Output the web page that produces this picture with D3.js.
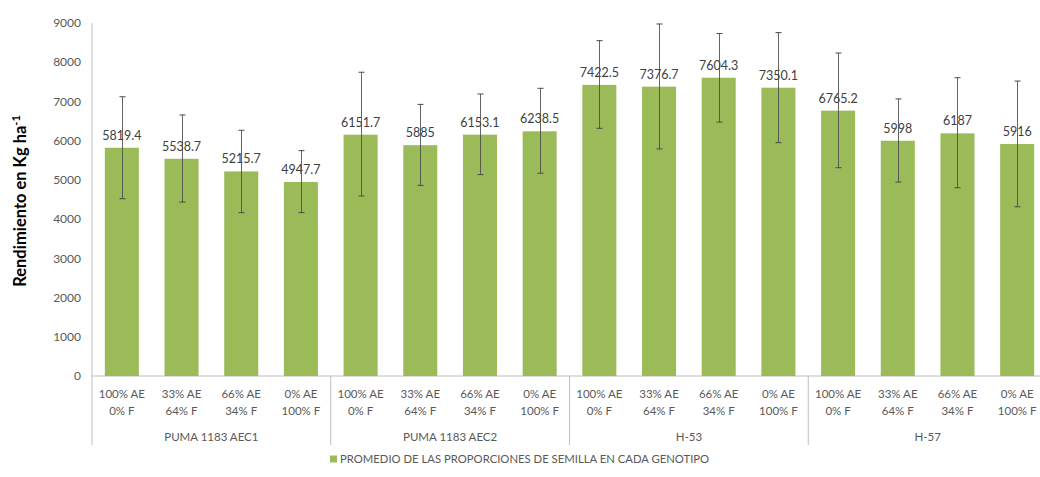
<!DOCTYPE html>
<html>
<head>
<meta charset="utf-8">
<script src="https://cdn.jsdelivr.net/npm/d3@7.9.0/dist/d3.min.js"></script>
<style>
  body { margin: 0; background: #fff; }
  svg text { font-family: Lato, "Noto Sans", sans-serif; }
</style>
</head>
<body>
<svg id="chart" width="1040" height="477"></svg>
<script>
// Data
const groups = ['PUMA 1183 AEC1', 'PUMA 1183 AEC2', 'H-53', 'H-57'];
const treatments = [['100% AE', '0% F'], ['33% AE', '64% F'], ['66% AE', '34% F'], ['0% AE', '100% F']];
const means = [5819.4, 5538.7, 5215.7, 4947.7, 6151.7, 5885, 6153.1, 6238.5,
               7422.5, 7376.7, 7604.3, 7350.1, 6765.2, 5998, 6187, 5916];
const errUpper = [7120, 6655, 6265, 5745, 7745, 6925, 7190, 7335,
                  8550, 8975, 8730, 8755, 8235, 7065, 7605, 7520];
const errLower = [4520, 4435, 4165, 4165, 4590, 4860, 5135, 5170,
                  6315, 5790, 6475, 5950, 5310, 4945, 4800, 4315];
const yTicks = [0, 1000, 2000, 3000, 4000, 5000, 6000, 7000, 8000, 9000];
const legendLabel = 'PROMEDIO DE LAS PROPORCIONES DE SEMILLA EN CADA GENOTIPO';

const svg = d3.select('#chart');
const plotLeft = 92, plotRight = 1047, plotTop = 23, plotBottom = 376;

const bars = means.map((v, i) => ({
  i, value: v, hi: errUpper[i], lo: errLower[i],
  group: groups[Math.floor(i / 4)], lines: treatments[i % 4]
}));

const x = d3.scaleBand().domain(d3.range(means.length)).range([plotLeft, plotRight]).paddingInner(0.43).paddingOuter(0.215);
const xGroup = d3.scaleBand().domain(groups).range([plotLeft, plotRight]);
const y = d3.scaleLinear().domain([0, 9000]).range([plotBottom, plotTop]);

// y axis labels
svg.append('g').selectAll('text').data(yTicks).join('text')
  .attr('x', 81).attr('y', d => y(d)).attr('dy', '0.35em')
  .attr('text-anchor', 'end').attr('font-size', 12).attr('fill', '#595959')
  .text(d => d);

// axis lines
svg.append('line').attr('x1', plotLeft).attr('x2', plotLeft).attr('y1', plotTop).attr('y2', 445)
  .attr('stroke', '#bfbfbf');
svg.append('line').attr('x1', plotLeft).attr('x2', 1040).attr('y1', plotBottom).attr('y2', plotBottom)
  .attr('stroke', '#bfbfbf');
svg.append('g').selectAll('line').data(groups.slice(1)).join('line')
  .attr('x1', d => xGroup(d)).attr('x2', d => xGroup(d))
  .attr('y1', plotBottom).attr('y2', 445).attr('stroke', '#bfbfbf');

// bars
svg.append('g').selectAll('rect').data(bars).join('rect')
  .attr('x', d => x(d.i)).attr('width', x.bandwidth())
  .attr('y', d => y(d.value)).attr('height', d => y(0) - y(d.value))
  .attr('fill', '#9bbb59');

// data labels
svg.append('g').selectAll('text').data(bars).join('text')
  .attr('x', d => x(d.i) + x.bandwidth() / 2).attr('y', d => y(d.value) - 8)
  .attr('text-anchor', 'middle').attr('font-size', 12.5).attr('fill', '#404040')
  .text(d => d.value);

// error bars
const eb = svg.append('g').attr('stroke', '#4a4a4a').attr('stroke-width', 1);
bars.forEach(d => {
  const cx = Math.round(x(d.i) + x.bandwidth() / 2) + 0.5;
  eb.append('line').attr('x1', cx).attr('x2', cx).attr('y1', y(d.hi)).attr('y2', y(d.lo)).attr('stroke-opacity', 0.85);
  [d.hi, d.lo].forEach(v => {
    eb.append('line').attr('x1', cx - 3).attr('x2', cx + 3).attr('y1', y(v)).attr('y2', y(v));
  });
});

// category labels
const cat = svg.append('g').selectAll('text').data(bars).join('text')
  .attr('text-anchor', 'middle').attr('font-size', 11.5).attr('fill', '#595959');
cat.each(function (d) {
  const t = d3.select(this);
  d.lines.forEach((ln, k) => {
    t.append('tspan').attr('x', x(d.i) + x.bandwidth() / 2).attr('y', 398 + k * 17).text(ln);
  });
});

// group labels
svg.append('g').selectAll('text').data(groups).join('text')
  .attr('x', d => xGroup(d) + xGroup.bandwidth() / 2).attr('y', 441)
  .attr('text-anchor', 'middle').attr('font-size', 11.5).attr('fill', '#595959')
  .text(d => d);

// y axis title
svg.append('text')
  .attr('transform', 'translate(26,201) rotate(-90)')
  .attr('text-anchor', 'middle').attr('font-size', 16.5).attr('font-weight', 'bold').attr('fill', '#000')
  .html('Rendimiento en Kg ha<tspan dy="-6" font-size="11">-1</tspan>');

// legend
const lg = svg.append('g').attr('transform', 'translate(330,459)');
lg.append('rect').attr('x', 0).attr('y', -3.5).attr('width', 7).attr('height', 7).attr('fill', '#9bbb59');
lg.append('text').attr('x', 10).attr('y', 0).attr('dy', '0.35em')
  .attr('font-size', 11.3).attr('fill', '#595959').text(legendLabel);
</script>
</body>
</html>
